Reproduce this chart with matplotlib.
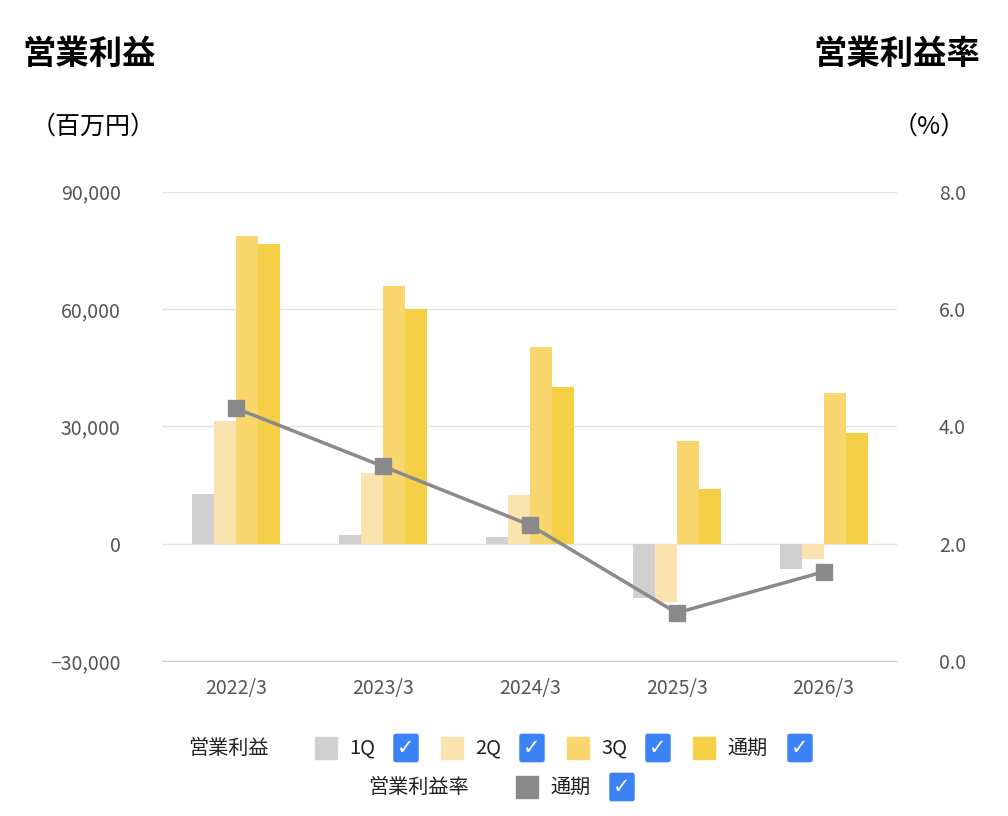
import numpy as np
import matplotlib.pyplot as plt
from matplotlib.patches import Rectangle, FancyBboxPatch

plt.rcParams['font.family'] = ['Noto Sans CJK JP', 'DejaVu Sans']

years = ['2022/3', '2023/3', '2024/3', '2025/3', '2026/3']
q1 = [12700, 2300, 1800, -14000, -6400]
q2 = [31300, 18100, 12500, -14800, -3800]
q3 = [78800, 66000, 50200, 26300, 38500]
full = [76700, 59900, 40000, 14000, 28300]
margin = [4.31, 3.32, 2.32, 0.82, 1.52]

colors = ['#d0d0d0', '#fbe3b0', '#f9d76e', '#f5cf45']
labels = ['1Q', '2Q', '3Q', '通期']

fig = plt.figure(figsize=(10.08, 8.16), dpi=100)
ax = fig.add_axes([0.161, 0.19, 0.729, 0.575])
x = np.arange(len(years))
w = 0.15
for i, s in enumerate([q1, q2, q3, full]):
    ax.bar(x + (i - 1.5) * w, s, w, color=colors[i], zorder=2)
ax.set_xlim(-0.5, 4.5)
ax.set_ylim(-30000, 90000)
ax.set_yticks([-30000, 0, 30000, 60000, 90000])
ax.set_yticklabels(['−30,000', '0', '30,000', '60,000', '90,000'])
ax.set_xticks(x)
ax.set_xticklabels(years)
ax.grid(axis='y', color='#e3e3e3', lw=1, zorder=0)
for sp in ['top', 'left', 'right']:
    ax.spines[sp].set_visible(False)
ax.spines['bottom'].set_color('#c8d0e0')
ax.tick_params(length=0, labelsize=14, colors='#555555', pad=12)
ax.tick_params(axis='y', pad=30)

ax2 = ax.twinx()
ax2.plot(x, margin, color='#8a8a8a', lw=2.5, marker='s', markersize=11, zorder=3)
ax2.set_ylim(0, 8)
ax2.set_yticks([0, 2, 4, 6, 8])
ax2.set_yticklabels(['0.0', '2.0', '4.0', '6.0', '8.0'])
for sp in ax2.spines.values():
    sp.set_visible(False)
ax2.tick_params(length=0, labelsize=14, colors='#555555', pad=30)

fig.text(0.022, 0.933, '営業利益', fontsize=24, fontweight='bold', va='center')
fig.text(0.972, 0.933, '営業利益率', fontsize=24, fontweight='bold', va='center', ha='right')
fig.text(0.03, 0.845, '（百万円）', fontsize=18, va='center')
fig.text(0.958, 0.845, '（%）', fontsize=18, va='center', ha='right')

def checkbox(px, py):
    fig.patches.append(FancyBboxPatch((px / 1008, 1 - (py + 12) / 816), 20 / 1008, 24 / 816,
                                      boxstyle='round,pad=0.002', color='#3b82f6',
                                      transform=fig.transFigure))
    fig.text((px + 10) / 1008, 1 - py / 816, '✓', color='white', fontsize=15,
             fontweight='bold', ha='center', va='center', family='DejaVu Sans')

def item(px, py, color, text, boxx):
    fig.patches.append(Rectangle((px / 1008, 1 - (py + 11) / 816), 22 / 1008, 22 / 816,
                                 color=color, transform=fig.transFigure))
    fig.text((px + 34) / 1008, 1 - py / 816, text, fontsize=14.5, va='center', color='#222222')
    checkbox(boxx, py)

ly = 748
fig.text(188 / 1008, 1 - ly / 816, '営業利益', fontsize=14.5, va='center', color='#222222')
item(315, ly, colors[0], labels[0], 396)
item(441, ly, colors[1], labels[1], 522)
item(567, ly, colors[2], labels[2], 648)
item(693, ly, colors[3], labels[3], 790)
ly2 = 787
fig.text(368 / 1008, 1 - ly2 / 816, '営業利益率', fontsize=14.5, va='center', color='#222222')
item(516, ly2, '#8a8a8a', '通期', 612)

fig.savefig('out.png', dpi=100, facecolor='white')
